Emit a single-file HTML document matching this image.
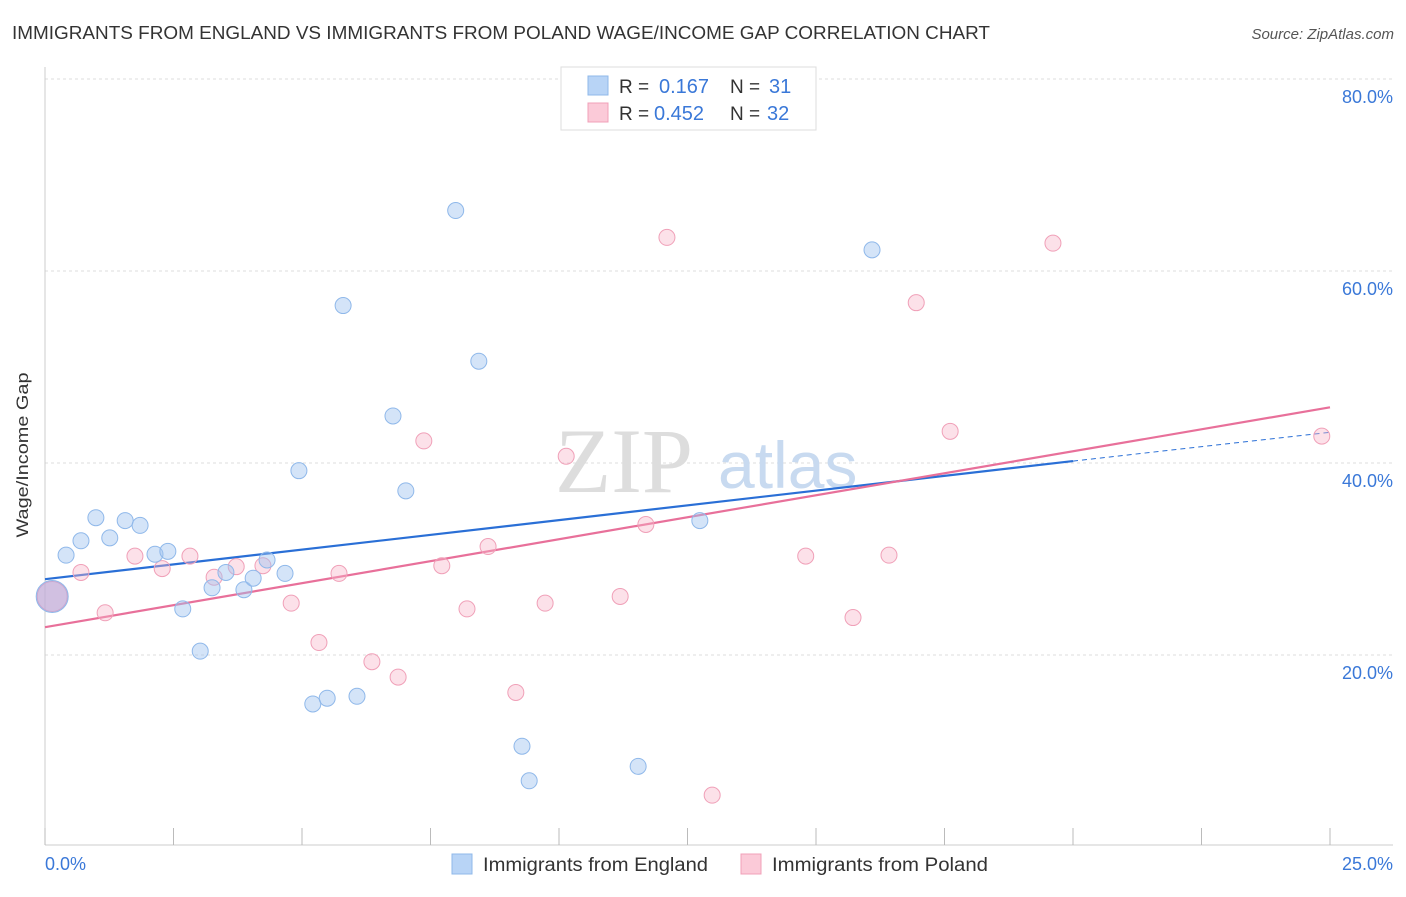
<!DOCTYPE html>
<html><head><meta charset="utf-8"><style>
body{margin:0;background:#fff;font-family:"Liberation Sans",sans-serif;}
</style></head><body>
<svg width="1406" height="892" xmlns="http://www.w3.org/2000/svg" font-family="Liberation Sans, sans-serif">
<text x="12" y="39" font-size="18" fill="#333" textLength="978" lengthAdjust="spacingAndGlyphs">IMMIGRANTS FROM ENGLAND VS IMMIGRANTS FROM POLAND WAGE/INCOME GAP CORRELATION CHART</text>
<text x="1394" y="39" font-size="15" fill="#555" font-style="italic" text-anchor="end">Source: ZipAtlas.com</text>
<g id="grid"></g>
<text x="555" y="492" font-size="92" fill="#ddd" font-family="Liberation Serif, serif">ZIP</text>
<text x="718" y="488" font-size="66" fill="#c8daf0">atlas</text>
<line x1="45" y1="67" x2="45" y2="845" stroke="#ccc"/>
<line x1="45" y1="845" x2="1393" y2="845" stroke="#ccc"/>
<g id="ticks"></g>
<g id="lines"></g>
<g id="pts"></g>
<text x="28" y="455" font-size="17" fill="#333" text-anchor="middle" textLength="165" lengthAdjust="spacingAndGlyphs" transform="rotate(-90 28 455)">Wage/Income Gap</text>
<text x="45" y="870" font-size="18" fill="#3a78d8">0.0%</text>
<text x="1393" y="870" font-size="18" fill="#3a78d8" text-anchor="end">25.0%</text>
<g>
<rect x="561" y="67" width="255" height="63" fill="#fff" stroke="#ddd"/>
<rect x="588" y="76" width="20" height="19" fill="#b8d4f6" stroke="#8fb8ea"/>
<text x="619" y="93" font-size="19" fill="#333">R = </text><text x="659" y="93" font-size="20" fill="#3a78d8">0.167</text>
<text x="730" y="93" font-size="19" fill="#333">N = </text><text x="769" y="93" font-size="20" fill="#3a78d8">31</text>
<rect x="588" y="103" width="20" height="19" fill="#fbcad8" stroke="#f0a0b8"/>
<text x="619" y="120" font-size="19" fill="#333">R = </text><text x="654" y="120" font-size="20" fill="#3a78d8">0.452</text>
<text x="730" y="120" font-size="19" fill="#333">N = </text><text x="767" y="120" font-size="20" fill="#3a78d8">32</text>
</g>
<g>
<rect x="452" y="854" width="20" height="20" fill="#b8d4f6" stroke="#8fb8ea"/>
<text x="483" y="871" font-size="19" fill="#333" textLength="225" lengthAdjust="spacingAndGlyphs">Immigrants from England</text>
<rect x="741" y="854" width="20" height="20" fill="#fbcad8" stroke="#f0a0b8"/>
<text x="772" y="871" font-size="19" fill="#333" textLength="216" lengthAdjust="spacingAndGlyphs">Immigrants from Poland</text>
</g>
</svg>
<script>
const yTicks=[20,40,60,80];
const xTicks=[0,2.5,5,7.5,10,12.5,15,17.5,20,22.5,25];
const englandX=[0.14,0.41,0.70,0.99,1.26,1.56,1.85,2.14,2.39,2.68,3.02,3.25,3.52,3.87,4.05,4.32,4.67,4.94,5.21,5.49,5.80,6.07,6.77,7.02,7.99,8.44,9.28,9.42,11.54,12.74,16.09];
const englandY=[26.1,30.4,31.9,34.3,32.2,34.0,33.5,30.5,30.8,24.8,20.4,27.0,28.6,26.8,28.0,29.9,28.5,39.2,14.9,15.5,56.4,15.7,44.9,37.1,66.3,50.6,10.5,6.9,8.4,34.0,62.2];
const polandX=[0.70,1.17,1.75,2.28,2.82,3.29,3.72,4.24,4.79,5.33,5.72,6.36,6.87,7.37,7.72,8.21,8.62,9.16,9.73,10.14,11.19,11.69,12.10,12.98,14.80,15.72,16.42,16.95,17.61,19.61,24.84,0.14];
const polandY=[28.6,24.4,30.3,29.0,30.3,28.1,29.2,29.3,25.4,21.3,28.5,19.3,17.7,42.3,29.3,24.8,31.3,16.1,25.4,40.7,26.1,33.6,63.5,5.4,30.3,23.9,30.4,56.7,43.3,62.9,42.8,26.1];
const englandTrend=[27.9,40.2,43.2]; // at x=0, 20, 25
const polandTrend=[22.9,45.8]; // at x=0, 25
const NS="http://www.w3.org/2000/svg";
const xs=v=>45+v/25*1285, ys=v=>847-v*9.6;
function mk(t,a,p){const e=document.createElementNS(NS,t);for(const k in a)e.setAttribute(k,a[k]);document.getElementById(p).appendChild(e);return e;}
yTicks.forEach(v=>{
 const l=mk('line',{x1:45,x2:1393,y1:ys(v),y2:ys(v),stroke:'#ddd','stroke-dasharray':'3,3'},'grid');
 
 
 const t=mk('text',{x:1393,y:ys(v)+24,'font-size':18,fill:'#3a78d8','text-anchor':'end'},'grid');
 t.textContent=v.toFixed(1)+'%';
 
 
});
xTicks.forEach(v=>{
 const l=mk('line',{x1:xs(v),x2:xs(v),y1:828,y2:845,stroke:'#bbb'},'ticks');
 
 
});
let b=mk('line',{x1:xs(0),y1:ys(englandTrend[0]),x2:xs(20),y2:ys(englandTrend[1]),stroke:'#2a6fd6','stroke-width':2.2},'lines');


b=mk('line',{x1:xs(20),y1:ys(englandTrend[1]),x2:xs(25),y2:ys(englandTrend[2]),stroke:'#2a6fd6','stroke-width':1,'stroke-dasharray':'5,4'},'lines');


b=mk('line',{x1:xs(0),y1:ys(polandTrend[0]),x2:xs(25),y2:ys(polandTrend[1]),stroke:'#e8709a','stroke-width':2.2},'lines');


polandX.forEach((x,i)=>{
 const c=mk('circle',{cx:xs(x),cy:ys(polandY[i]),r:i==polandX.length-1?15:8,fill:'rgba(248,180,200,0.4)',stroke:'#f0a0b8','stroke-width':1},'pts');
 
 
});
englandX.forEach((x,i)=>{
 const c=mk('circle',{cx:xs(x),cy:ys(englandY[i]),r:i==0?16:8,fill:i==0?'rgba(180,170,220,0.6)':'rgba(160,196,240,0.45)',stroke:'#8fb8ea','stroke-width':1},'pts');
 
 
});
</script>
</body></html>
